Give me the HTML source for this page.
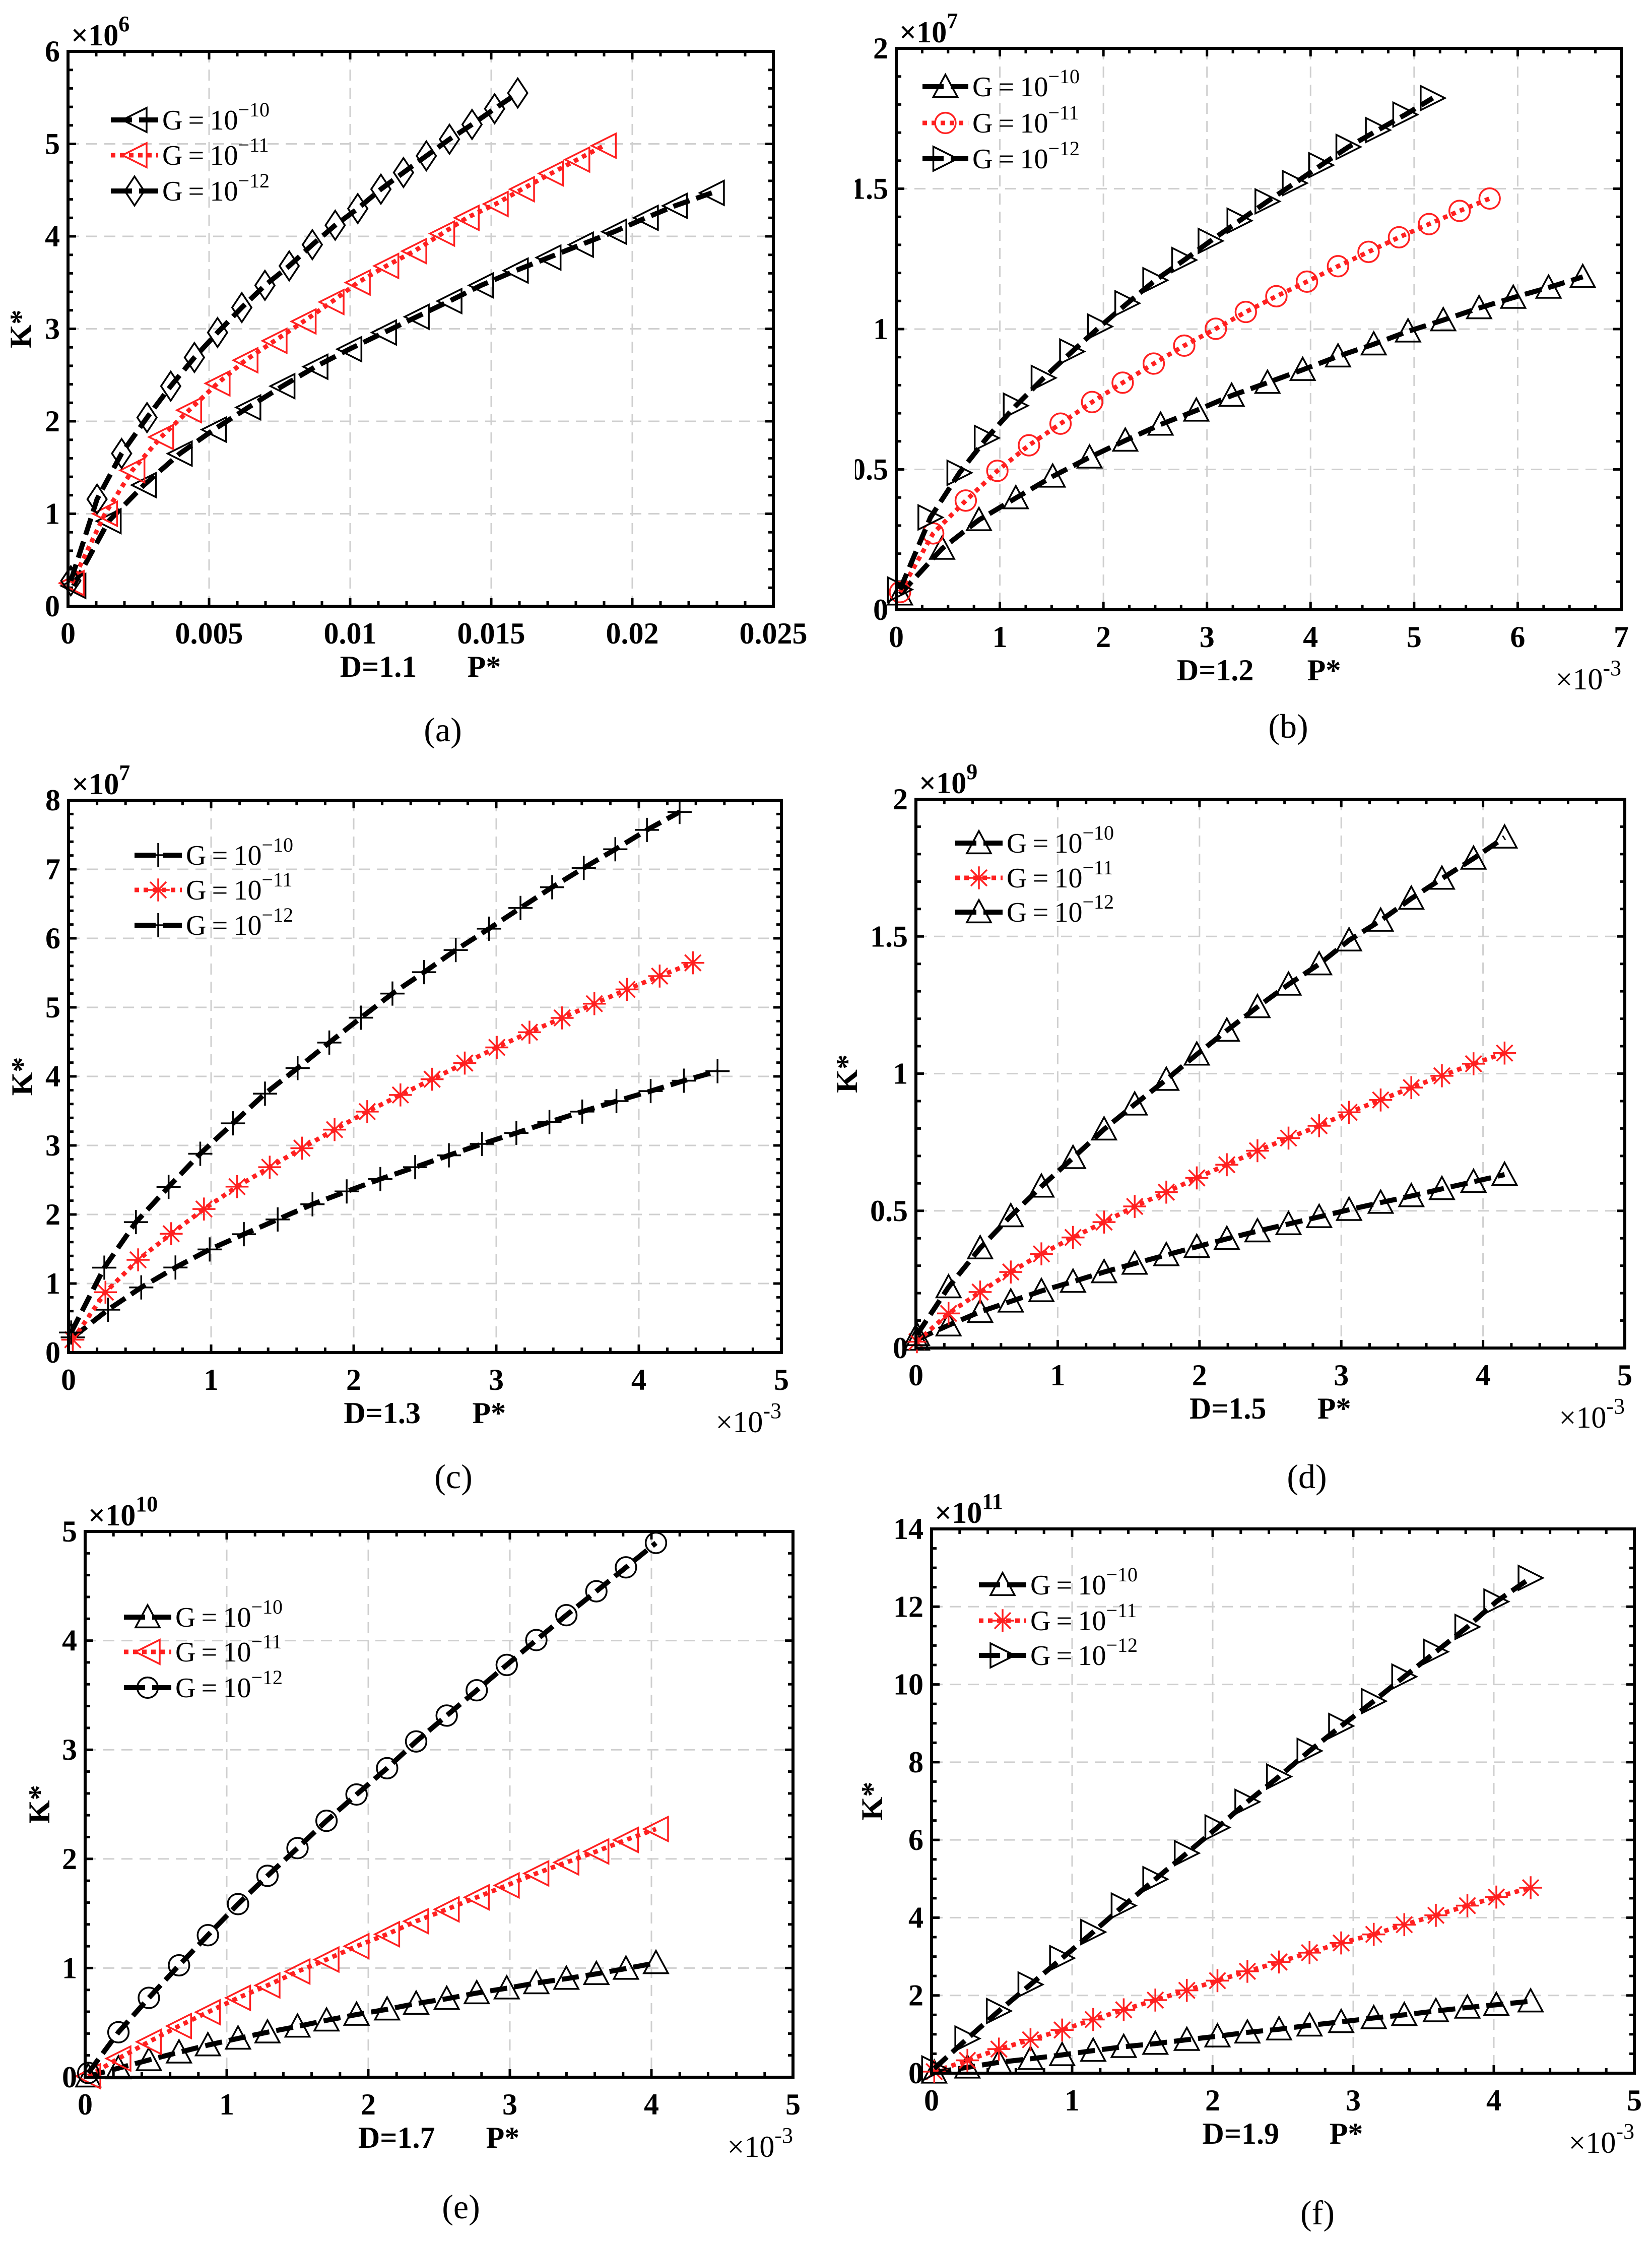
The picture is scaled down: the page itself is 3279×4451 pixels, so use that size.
<!DOCTYPE html>
<html><head><meta charset="utf-8">
<style>
html,body{margin:0;padding:0;background:#fff;}
svg{display:block;}
text{font-family:"Liberation Serif","DejaVu Serif",serif;}
</style></head>
<body>
<svg id="fig" xmlns="http://www.w3.org/2000/svg" width="3279" height="4451" viewBox="0 0 3279 4451"></svg>
<script>
// ---------- DATA ----------
// Panel (a) D=1.1
const aX10=[0.00019,0.00144,0.00269,0.00396,0.00517,0.00639,0.0076,0.00877,0.00997,0.0112,0.01236,0.01352,0.01464,0.01587,0.01703,0.01818,0.01936,0.02048,0.02151,0.02282];
const aY10=[0.22,0.92,1.31,1.65,1.91,2.15,2.38,2.59,2.78,2.96,3.13,3.30,3.47,3.63,3.77,3.91,4.05,4.20,4.33,4.47];
const aX11=[0.00013,0.00131,0.00228,0.0033,0.00429,0.0053,0.00629,0.00732,0.00835,0.00934,0.01027,0.01128,0.01227,0.01326,0.01413,0.01516,0.01609,0.01712,0.01805,0.01899];
const aY11=[0.25,1.00,1.47,1.83,2.12,2.41,2.66,2.87,3.08,3.29,3.50,3.68,3.84,4.03,4.20,4.35,4.51,4.68,4.83,4.98];
const aX12=[0.0001,0.00103,0.0019,0.0028,0.00364,0.00448,0.0053,0.00616,0.00698,0.00784,0.00866,0.00947,0.01027,0.01109,0.01189,0.0127,0.01352,0.01432,0.01512,0.01594];
const aY12=[0.275,1.158,1.652,2.04,2.38,2.69,2.96,3.23,3.47,3.68,3.91,4.12,4.30,4.51,4.69,4.87,5.05,5.21,5.38,5.55];
// Panel (b) D=1.2
const bX10=[0.036,0.442,0.798,1.154,1.51,1.866,2.211,2.552,2.897,3.238,3.584,3.924,4.265,4.61,4.941,5.281,5.627,5.957,6.298,6.628];
const bY10=[0.055,0.218,0.32,0.398,0.475,0.543,0.603,0.66,0.71,0.763,0.809,0.855,0.903,0.946,0.992,1.032,1.075,1.112,1.148,1.186];
const bX11=[0.036,0.356,0.671,0.976,1.281,1.586,1.891,2.186,2.486,2.78,3.085,3.375,3.67,3.965,4.265,4.56,4.854,5.144,5.439,5.729];
const bY11=[0.063,0.272,0.389,0.495,0.586,0.663,0.74,0.809,0.877,0.941,1.001,1.061,1.117,1.169,1.224,1.275,1.327,1.374,1.421,1.465];
const bX12=[0.036,0.33,0.61,0.874,1.154,1.423,1.698,1.967,2.231,2.501,2.78,3.035,3.314,3.584,3.848,4.102,4.366,4.651,4.915,5.18];
const bY12=[0.072,0.329,0.488,0.612,0.727,0.826,0.92,1.009,1.092,1.174,1.246,1.314,1.386,1.455,1.52,1.584,1.649,1.709,1.764,1.823];
// Panel (c) D=1.3
const cX10=[0.03,0.277,0.51,0.75,0.99,1.23,1.467,1.711,1.951,2.187,2.431,2.668,2.9,3.141,3.373,3.603,3.843,4.083,4.316,4.552];
const cY10=[0.22,0.62,0.943,1.232,1.494,1.714,1.928,2.148,2.334,2.513,2.685,2.857,3.022,3.181,3.339,3.49,3.642,3.787,3.938,4.076];
const cX11=[0.03,0.259,0.488,0.72,0.95,1.182,1.411,1.637,1.866,2.095,2.328,2.55,2.779,3.004,3.233,3.462,3.688,3.917,4.146,4.379];
const cY11=[0.186,0.874,1.343,1.721,2.079,2.403,2.685,2.96,3.229,3.49,3.731,3.959,4.193,4.42,4.64,4.847,5.053,5.26,5.453,5.645];
const cX12=[0.018,0.251,0.473,0.702,0.924,1.153,1.378,1.607,1.829,2.051,2.272,2.494,2.716,2.949,3.17,3.392,3.614,3.835,4.057,4.286];
const cY12=[0.29,1.23,1.89,2.40,2.88,3.32,3.75,4.12,4.49,4.85,5.2,5.51,5.83,6.14,6.44,6.74,7.02,7.29,7.57,7.83];
// Panel (d) D=1.5
const dX=[0.007,0.23,0.453,0.669,0.885,1.108,1.327,1.543,1.766,1.981,2.193,2.409,2.628,2.844,3.055,3.278,3.494,3.71,3.933,4.152];
const dY10=[0.031,0.083,0.132,0.17,0.208,0.242,0.277,0.308,0.339,0.369,0.398,0.426,0.452,0.478,0.504,0.53,0.554,0.58,0.606,0.632];
const dY11=[0.023,0.126,0.204,0.277,0.343,0.403,0.459,0.516,0.568,0.62,0.668,0.719,0.765,0.81,0.859,0.904,0.949,0.992,1.036,1.075];
const dY12=[0.048,0.222,0.364,0.481,0.589,0.693,0.797,0.888,0.978,1.07,1.157,1.243,1.325,1.399,1.486,1.558,1.638,1.711,1.784,1.861];
// Panel (e) D=1.7
const eX=[0.022,0.235,0.45,0.663,0.867,1.08,1.288,1.5,1.705,1.917,2.133,2.338,2.554,2.766,2.978,3.187,3.399,3.611,3.82,4.032];
const eY10=[0.009,0.083,0.158,0.228,0.294,0.355,0.412,0.465,0.521,0.574,0.622,0.675,0.719,0.771,0.815,0.863,0.903,0.947,0.995,1.047];
const eY11=[0.009,0.171,0.324,0.469,0.596,0.727,0.841,0.968,1.078,1.2,1.31,1.429,1.538,1.648,1.757,1.867,1.968,2.068,2.174,2.274];
const eY12=[0.039,0.412,0.727,1.025,1.301,1.586,1.845,2.099,2.349,2.59,2.831,3.076,3.313,3.545,3.777,4.005,4.233,4.452,4.671,4.895];
// Panel (f) D=1.9
const fX=[0.019,0.255,0.479,0.704,0.929,1.15,1.367,1.592,1.816,2.034,2.247,2.472,2.689,2.914,3.146,3.363,3.588,3.812,4.018,4.262];
const fY10=[0.02,0.15,0.28,0.37,0.47,0.58,0.68,0.76,0.86,0.95,1.05,1.13,1.23,1.32,1.42,1.50,1.60,1.69,1.76,1.85];
const fY11=[0.04,0.33,0.62,0.86,1.11,1.38,1.63,1.88,2.13,2.38,2.62,2.86,3.10,3.35,3.57,3.82,4.06,4.31,4.53,4.77];
const fY12=[0.12,0.89,1.60,2.28,2.96,3.63,4.31,4.99,5.66,6.32,6.98,7.63,8.29,8.93,9.57,10.2,10.84,11.48,12.13,12.74];
// Tick labels
const aXTicks=["0","0.005","0.01","0.015","0.02","0.025"];
const bXTicks=["0","1","2","3","4","5","6","7"];
const cXTicks=["0","1","2","3","4","5"];
const aYTicks=["0","1","2","3","4","5","6"];
const bYTicks=["0","0.5","1","1.5","2"];
const cYTicks=["0","1","2","3","4","5","6","7","8"];
const eYTicks=["0","1","2","3","4","5"];
const fYTicks=["0","2","4","6","8","10","12","14"];

// ---------- DRAWING ----------
const NS="http://www.w3.org/2000/svg";
const svg=document.getElementById('fig');
function mk(tag,attrs,parent){const e=document.createElementNS(NS,tag);for(const k in attrs)e.setAttribute(k,attrs[k]);(parent||svg).appendChild(e);return e;}

function marker(g,type,cx,cy,color){
  const s=24;let e;
  const st={fill:'none',stroke:color,'stroke-width':3.5};
  if(type==='tl'){e=mk('polygon',Object.assign({points:`${cx-s},${cy} ${cx+s},${cy-s} ${cx+s},${cy+s}`},st),g);}
  else if(type==='tr'){e=mk('polygon',Object.assign({points:`${cx+s},${cy} ${cx-s},${cy-s} ${cx-s},${cy+s}`},st),g);}
  else if(type==='tu'){e=mk('polygon',Object.assign({points:`${cx},${cy-s} ${cx-s},${cy+s*0.85} ${cx+s},${cy+s*0.85}`},st),g);}
  else if(type==='dia'){e=mk('polygon',Object.assign({points:`${cx},${cy-s*1.2} ${cx+s*0.8},${cy} ${cx},${cy+s*1.2} ${cx-s*0.8},${cy}`},st),g);}
  else if(type==='circ'){e=mk('circle',Object.assign({cx:cx,cy:cy,r:s*0.85},st),g);}
  else if(type==='plus'){e=mk('path',Object.assign({d:`M${cx-s},${cy}H${cx+s}M${cx},${cy-s}V${cy+s}`},st),g);}
  else if(type==='star'){const r=s*0.95;e=mk('path',Object.assign({d:`M${cx-r},${cy}H${cx+r}M${cx},${cy-r}V${cy+r}M${cx-r*0.7},${cy-r*0.7}L${cx+r*0.7},${cy+r*0.7}M${cx-r*0.7},${cy+r*0.7}L${cx+r*0.7},${cy-r*0.7}`},st),g);}
  
  
}

function styleOf(kind){
  if(kind==='red') return {color:'#ff2020',dash:'9 9',w:9};
  return {color:'#000',dash:'34 14',w:10};
}

function panel(p){
  const g=mk('g',{});
  
  
  const L=p.x0,R=p.x1,T=p.y0,B=p.y1;
  const sx=v=>L+(v-p.xmin)/(p.xmax-p.xmin)*(R-L);
  const sy=v=>B-(v-p.ymin)/(p.ymax-p.ymin)*(B-T);
  const nx=p.xt.length-1,ny=p.yt.length-1;
  const dxm=(p.xmax-p.xmin)/nx,dym=(p.ymax-p.ymin)/ny;
  for(let i=1;i<nx;i++){const x=sx(p.xmin+i*dxm);const ln=mk('line',{x1:x,y1:T,x2:x,y2:B,stroke:'#cfcfcf','stroke-width':3,'stroke-dasharray':'22 14'},g);}
  for(let i=1;i<ny;i++){const y=sy(p.ymin+i*dym);const ln=mk('line',{x1:L,y1:y,x2:R,y2:y,stroke:'#cfcfcf','stroke-width':3,'stroke-dasharray':'22 14'},g);}
  let td='';
  const nmx=p.xminor,nmy=p.yminor;
  for(let i=0;i<=nx*nmx;i++){const x=sx(p.xmin+i*dxm/nmx);const len=(i%nmx===0)?16:10;td+=`M${x},${B}V${B-len}M${x},${T}V${T+len}`;}
  for(let i=0;i<=ny*nmy;i++){const y=sy(p.ymin+i*dym/nmy);const len=(i%nmy===0)?16:10;td+=`M${L},${y}H${L+len}M${R},${y}H${R-len}`;}
  const tk=mk('path',{d:td,stroke:'#000','stroke-width':5,fill:'none'},g);
  
  p.series.forEach((s,si)=>{
    const st=styleOf(s.kind);
    const sg=mk('g',{},g);
    
    
    const pts=s.x.map((v,i)=>sx(v)+','+sy(s.y[i])).join(' ');
    const pl=mk('polyline',{points:pts,fill:'none',stroke:st.color,'stroke-width':st.w,'stroke-dasharray':st.dash,'stroke-linejoin':'round'},sg);
    
    s.x.forEach((v,i)=>marker(sg,s.m,sx(v),sy(s.y[i]),st.color));
    const ly=p.leg.y[si];
    const lg=mk('g',{},g);
    
    
    const ll=mk('line',{x1:p.leg.x1,y1:ly,x2:p.leg.x2,y2:ly,stroke:st.color,'stroke-width':st.w,'stroke-dasharray':s.kind==='red'?'9 9':'42 14'},lg);
    
    marker(lg,s.m,(p.leg.x1+p.leg.x2)/2,ly,st.color);
    const t=mk('text',{x:p.leg.x2+8,y:ly+19,'font-size':56},lg);
    
    t.appendChild(document.createTextNode('G\u2009=\u200910'));
    const sup=mk('tspan',{dy:-26,'font-size':40},t);sup.textContent=s.exp;
  });
  const fr=mk('rect',{x:L,y:T,width:R-L,height:B-T,fill:'none',stroke:'#000','stroke-width':6},g);
  
  p.xt.forEach((lab,i)=>{const t=mk('text',{x:sx(p.xmin+i*dxm),y:B+74,'font-size':60,'font-weight':'bold','text-anchor':'middle'},g);t.textContent=lab;});
  p.yt.forEach((lab,i)=>{const t=mk('text',{x:L-16,y:sy(p.ymin+i*dym)+20,'font-size':60,'font-weight':'bold','text-anchor':'end'},g);t.textContent=lab;});
  const ex=mk('text',{x:L+6,y:T-12,'font-size':60,'font-weight':'bold'},g);
  
  ex.appendChild(document.createTextNode('\u00d710'));
  const es=mk('tspan',{dy:-28,'font-size':44},ex);es.textContent=p.yexp;
  if(p.xexp){
    const xe=mk('text',{x:R,y:B+158,'font-size':60,'text-anchor':'end'},g);
    
    xe.appendChild(document.createTextNode('\u00d710'));
    const xs=mk('tspan',{dy:-28,'font-size':44},xe);xs.textContent='-3';
  }
  const dl=mk('text',{x:L+0.44*(R-L),y:B+140,'font-size':60,'font-weight':'bold','text-anchor':'middle'},g);
  dl.textContent='D=1.'+p.dlab;
  const pl2=mk('text',{x:L+0.59*(R-L),y:B+140,'font-size':60,'font-weight':'bold','text-anchor':'middle'},g);
  pl2.textContent='P*';
  if(p.kx!==null){
    const cy=(T+B)/2;
    const k=mk('text',{x:L-p.kx,y:cy,'font-size':60,'font-weight':'bold','text-anchor':'middle',transform:`rotate(-90 ${L-p.kx} ${cy})`,'dominant-baseline':'middle'},g);
    k.textContent='K*';
  }
  const cap=mk('text',{x:p.cap[0],y:p.cap[1]+22,'font-size':68,'text-anchor':'middle'},g);
  cap.textContent='('+p.id+')';
  if(p.clip){const c=mk('rect',{x:p.clip[0],y:p.clip[1],width:p.clip[2],height:p.clip[3],fill:'#fff'},g);}
}

const E10='\u221210',E11='\u221211',E12='\u221212';
panel({id:'a',x0:135,x1:1535,y0:102,y1:1203,xmin:0,xmax:0.025,ymin:0,ymax:6,xt:aXTicks,yt:aYTicks,xminor:5,yminor:5,yexp:'6',xexp:false,dlab:'1',kx:88,cap:[879,1449],
  leg:{x1:220,x2:314,y:[238,308,379]},
  series:[{name:'g10',kind:'black',m:'tl',x:aX10,y:aY10,exp:E10},{name:'g11',kind:'red',m:'tl',x:aX11,y:aY11,exp:E11},{name:'g12',kind:'black',m:'dia',x:aX12,y:aY12,exp:E12}]});
panel({id:'b',x0:1779,x1:3218,y0:96,y1:1210,xmin:0,xmax:7,ymin:0,ymax:2,xt:bXTicks,yt:bYTicks,xminor:4,yminor:5,yexp:'7',xexp:true,dlab:'2',kx:null,cap:[2557,1442],clip:[1640,0,57,1300],
  leg:{x1:1831,x2:1922,y:[172,244,315]},
  series:[{name:'g10',kind:'black',m:'tu',x:bX10,y:bY10,exp:E10},{name:'g11',kind:'red',m:'circ',x:bX11,y:bY11,exp:E11},{name:'g12',kind:'black',m:'tr',x:bX12,y:bY12,exp:E12}]});
panel({id:'c',x0:136,x1:1551,y0:1588,y1:2684,xmin:0,xmax:5,ymin:0,ymax:8,xt:cXTicks,yt:cYTicks,xminor:5,yminor:5,yexp:'7',xexp:true,dlab:'3',kx:86,cap:[900,2931],
  leg:{x1:267,x2:361,y:[1697,1766,1836]},
  series:[{name:'g10',kind:'black',m:'plus',x:cX10,y:cY10,exp:E10},{name:'g11',kind:'red',m:'star',x:cX11,y:cY11,exp:E11},{name:'g12',kind:'black',m:'plus',x:cX12,y:cY12,exp:E12}]});
panel({id:'d',x0:1818,x1:3225,y0:1586,y1:2675,xmin:0,xmax:5,ymin:0,ymax:2,xt:cXTicks,yt:bYTicks,xminor:5,yminor:5,yexp:'9',xexp:true,dlab:'5',kx:131,cap:[2594,2931],
  leg:{x1:1896,x2:1990,y:[1673,1742,1810]},
  series:[{name:'g10',kind:'black',m:'tu',x:dX,y:dY10,exp:E10},{name:'g11',kind:'red',m:'star',x:dX,y:dY11,exp:E11},{name:'g12',kind:'black',m:'tu',x:dX,y:dY12,exp:E12}]});
panel({id:'e',x0:169,x1:1574,y0:3039,y1:4122,xmin:0,xmax:5,ymin:0,ymax:5,xt:cXTicks,yt:eYTicks,xminor:5,yminor:5,yexp:'10',xexp:true,dlab:'7',kx:85,cap:[915,4380],
  leg:{x1:246,x2:340,y:[3209,3278,3349]},
  series:[{name:'g10',kind:'black',m:'tu',x:eX,y:eY10,exp:E10},{name:'g11',kind:'red',m:'tl',x:eX,y:eY11,exp:E11},{name:'g12',kind:'black',m:'circ',x:eX,y:eY12,exp:E12}]});
panel({id:'f',x0:1849,x1:3244,y0:3034,y1:4114,xmin:0,xmax:5,ymin:0,ymax:14,xt:cXTicks,yt:fYTicks,xminor:5,yminor:4,yexp:'11',xexp:true,dlab:'9',kx:112,cap:[2615,4392],
  leg:{x1:1943,x2:2037,y:[3145,3216,3285]},
  series:[{name:'g10',kind:'black',m:'tu',x:fX,y:fY10,exp:E10},{name:'g11',kind:'red',m:'star',x:fX,y:fY11,exp:E11},{name:'g12',kind:'black',m:'tr',x:fX,y:fY12,exp:E12}]});
</script>
</body></html>
